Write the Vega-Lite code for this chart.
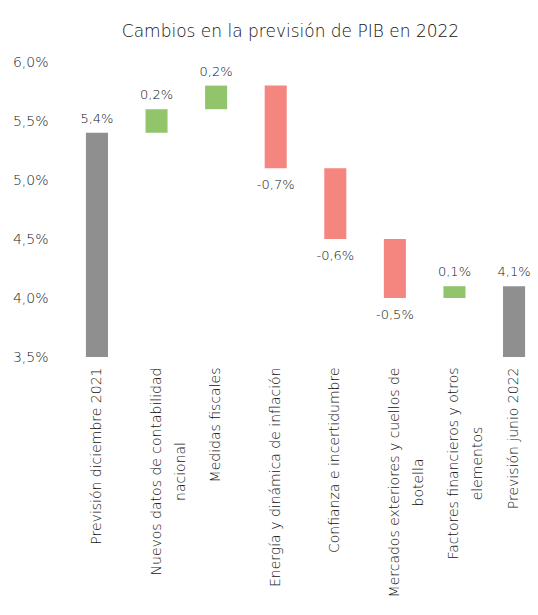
{
  "$schema": "https://vega.github.io/schema/vega-lite/v6.json",
  "width": 463,
  "height": 295,
  "padding": {"left": 12, "top": 23, "right": 0, "bottom": 0},
  "background": "white",
  "title": {
    "text": "Cambios en la previsión de PIB en 2022",
    "font": "DejaVu Sans",
    "fontSize": 17,
    "fontWeight": 200,
    "color": "#111111",
    "anchor": "middle",
    "offset": 14,
    "dx": -15
  },
  "data": {
    "values": [
      {"concepto": "Previsión diciembre 2021", "inicio": 0.035, "fin": 0.054, "cambio": 0.054, "tipo": "total"},
      {"concepto": "Nuevos datos de contabilidad nacional", "inicio": 0.054, "fin": 0.056, "cambio": 0.002, "tipo": "sube"},
      {"concepto": "Medidas fiscales", "inicio": 0.056, "fin": 0.058, "cambio": 0.002, "tipo": "sube"},
      {"concepto": "Energía y dinámica de inflación", "inicio": 0.058, "fin": 0.051, "cambio": -0.007, "tipo": "baja"},
      {"concepto": "Confianza e incertidumbre", "inicio": 0.051, "fin": 0.045, "cambio": -0.006, "tipo": "baja"},
      {"concepto": "Mercados exteriores y cuellos de botella", "inicio": 0.045, "fin": 0.040, "cambio": -0.005, "tipo": "baja"},
      {"concepto": "Factores financieros y otros elementos", "inicio": 0.040, "fin": 0.041, "cambio": 0.001, "tipo": "sube"},
      {"concepto": "Previsión junio 2022", "inicio": 0.035, "fin": 0.041, "cambio": 0.041, "tipo": "total"}
    ]
  },
  "encoding": {
    "x": {
      "field": "concepto",
      "type": "nominal",
      "sort": null,
      "title": null,
      "scale": {"paddingInner": 0.63, "paddingOuter": 0.2},
      "axis": {
        "labelAngle": -90,
        "labelAlign": {
          "condition": {"test": "datum.value == 'Nuevos datos de contabilidad nacional' || datum.value == 'Mercados exteriores y cuellos de botella' || datum.value == 'Factores financieros y otros elementos'", "value": "center"},
          "value": "right"
        },
        "labelPadding": {
          "condition": [
            {"test": "datum.value == 'Nuevos datos de contabilidad nacional'", "value": 114},
            {"test": "datum.value == 'Mercados exteriores y cuellos de botella'", "value": 125},
            {"test": "datum.value == 'Factores financieros y otros elementos'", "value": 106}
          ],
          "value": 10
        },
        "labelBaseline": "middle",
        "labelFont": "DejaVu Sans",
        "labelFontSize": 14,
        "labelFontWeight": 200,
        "labelColor": "#111111",
        "labelLineHeight": 24,
        "labelLimit": 400,
        "domain": false,
        "ticks": false,
        "labelExpr": "datum.value == 'Nuevos datos de contabilidad nacional' ? ['Nuevos datos de contabilidad', 'nacional'] : datum.value == 'Mercados exteriores y cuellos de botella' ? ['Mercados exteriores y cuellos de', 'botella'] : datum.value == 'Factores financieros y otros elementos' ? ['Factores financieros y otros', 'elementos'] : datum.label"
      }
    }
  },
  "layer": [
    {
      "mark": {"type": "bar"},
      "encoding": {
        "y": {
          "field": "inicio",
          "type": "quantitative",
          "title": null,
          "scale": {"domain": [0.035, 0.06], "nice": false, "zero": false},
          "axis": {
            "values": [0.035, 0.04, 0.045, 0.05, 0.055, 0.06],
            "format": ".1%",
            "domain": false,
            "ticks": false,
            "grid": false,
            "labelPadding": 26,
            "labelFont": "DejaVu Sans",
            "labelFontSize": 14,
            "labelFontWeight": 200,
            "labelColor": "#222222"
          }
        },
        "y2": {"field": "fin"},
        "color": {
          "field": "tipo",
          "type": "nominal",
          "legend": null,
          "scale": {"domain": ["total", "sube", "baja"], "range": ["#8f8f8f", "#92c46c", "#f5857f"]}
        }
      }
    },
    {
      "transform": [{"filter": "datum.tipo != 'baja'"}],
      "mark": {"type": "text", "baseline": "bottom", "dy": -7, "font": "DejaVu Sans", "fontSize": 13, "fontWeight": 200, "color": "#111111"},
      "encoding": {
        "y": {"field": "fin", "type": "quantitative"},
        "text": {"field": "cambio", "type": "quantitative", "format": ".1%"}
      }
    },
    {
      "transform": [{"filter": "datum.tipo == 'baja'"}],
      "mark": {"type": "text", "baseline": "top", "dy": 11, "font": "DejaVu Sans", "fontSize": 13, "fontWeight": 200, "color": "#111111"},
      "encoding": {
        "y": {"field": "fin", "type": "quantitative"},
        "text": {"field": "cambio", "type": "quantitative", "format": ".1%"}
      }
    }
  ],
  "config": {
    "view": {"stroke": null},
    "locale": {
      "number": {"decimal": ",", "thousands": ".", "grouping": [3], "currency": ["", " €"], "minus": "-"}
    }
  }
}
